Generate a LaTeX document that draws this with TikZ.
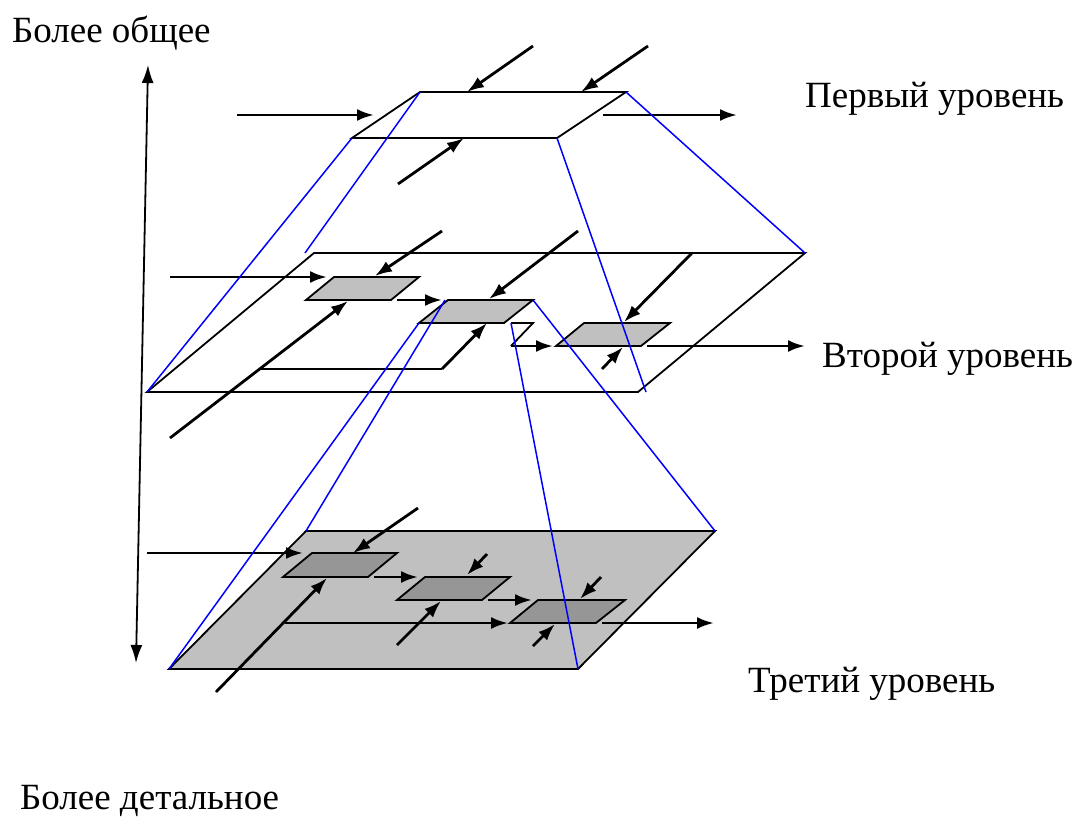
\documentclass[tikz,border=0pt]{standalone}
\usepackage{fontspec}
\setmainfont{Liberation Serif}
\usepackage{tikz}
\usetikzlibrary{arrows.meta}
\usepackage{xcolor}
\definecolor{planegray}{RGB}{192,192,192}
\definecolor{boxgray}{RGB}{150,150,150}
\definecolor{projblue}{RGB}{0,0,255}

\tikzset{
  plane/.style={draw=black, line width=1.8pt, line join=miter},
  subbox/.style={draw=black, line width=1.8pt},
  flow/.style={line width=2.8pt, -{Latex[length=17pt,width=12pt]}},
  axisflow/.style={line width=1.8pt, {Latex[length=18pt,width=12pt]}-{Latex[length=18pt,width=12pt]}},
  proj/.style={projblue, line width=1.5pt},
  caption/.style={anchor=base west, inner sep=0pt, font=\fontsize{37}{41}\selectfont}
}

\begin{document}
\begin{tikzpicture}[x=1pt, y=-1pt]
  \useasboundingbox (0,0) rectangle (1079,819);

  % Scale axis
  \coordinate (axtop) at (148,65);
  \coordinate (axbot) at (136,663);
  \draw[axisflow] (axbot) -- (axtop);

  % Level 1
  \coordinate (p1tl) at (420,92);
  \coordinate (p1tr) at (626,92);
  \coordinate (p1br) at (557,138);
  \coordinate (p1bl) at (352,138);
  \draw[plane] (p1tl) -- (p1tr) -- (p1br) -- (p1bl) -- cycle;

  \coordinate (in1) at (237,115);   \coordinate (in1e) at (374,115);
  \coordinate (out1) at (603,115);  \coordinate (out1e) at (737,115);
  \coordinate (ca1) at (533,46);    \coordinate (ca1e) at (467,92);
  \coordinate (cb1) at (648,46);    \coordinate (cb1e) at (581,92);
  \coordinate (me1) at (398,184);   \coordinate (me1e) at (464,138);
  \draw[flow] (in1) -- (in1e);
  \draw[flow] (out1) -- (out1e);
  \draw[flow] (ca1) -- (ca1e);
  \draw[flow] (cb1) -- (cb1e);
  \draw[flow] (me1) -- (me1e);

  % Level 2
  \coordinate (p2tl) at (314,253);
  \coordinate (p2tr) at (805,253);
  \coordinate (p2br) at (638,392);
  \coordinate (p2bl) at (147,392);
  \draw[plane] (p2tl) -- (p2tr) -- (p2br) -- (p2bl) -- cycle;

  \coordinate (bAtl) at (334,277); \coordinate (bAtr) at (419,277);
  \coordinate (bAbr) at (391,300); \coordinate (bAbl) at (306,300);
  \coordinate (bBtl) at (448,300); \coordinate (bBtr) at (533,300);
  \coordinate (bBbr) at (504,323); \coordinate (bBbl) at (419,323);
  \coordinate (bCtl) at (584,323); \coordinate (bCtr) at (670,323);
  \coordinate (bCbr) at (641,346); \coordinate (bCbl) at (556,346);
  \foreach \b in {bA,bB,bC}
    \filldraw[subbox, fill=planegray] (\b tl) -- (\b tr) -- (\b br) -- (\b bl) -- cycle;

  \coordinate (in2) at (170,277);  \coordinate (in2e) at (327,277);
  \coordinate (ca2) at (442,231);  \coordinate (ca2e) at (375,276);
  \coordinate (me2) at (170,438);  \coordinate (me2e) at (348,301);
  \coordinate (ab2) at (397,300);  \coordinate (ab2e) at (442,300);
  \coordinate (cb2) at (578,231);  \coordinate (cb2e) at (489,299);
  \coordinate (fb2) at (260,369);  \coordinate (fb2k) at (442,369);
  \coordinate (fb2e) at (487,323);
  \coordinate (zz2) at (511,323);  \coordinate (zz2a) at (533,323);
  \coordinate (zz2b) at (511,346); \coordinate (zz2e) at (553,346);
  \coordinate (cc2) at (692,253);  \coordinate (cc2e) at (624,322);
  \coordinate (mc2) at (602,369);  \coordinate (mc2e) at (623,347);
  \coordinate (out2) at (647,346); \coordinate (out2e) at (805,346);
  \draw[flow] (in2) -- (in2e);
  \draw[flow] (ca2) -- (ca2e);
  \draw[flow] (me2) -- (me2e);
  \draw[flow] (ab2) -- (ab2e);
  \draw[flow] (cb2) -- (cb2e);
  \draw[plane] (fb2) -- (fb2k);
  \draw[flow] (fb2k) -- (fb2e);
  \draw[plane] (zz2) -- (zz2a) -- (zz2b);
  \draw[flow] (zz2b) -- (zz2e);
  \draw[flow] (cc2) -- (cc2e);
  \draw[flow] (mc2) -- (mc2e);
  \draw[flow] (out2) -- (out2e);

  % Level 3
  \coordinate (p3tl) at (306,531);
  \coordinate (p3tr) at (715,531);
  \coordinate (p3br) at (578,669);
  \coordinate (p3bl) at (169,669);
  \filldraw[plane, fill=planegray] (p3tl) -- (p3tr) -- (p3br) -- (p3bl) -- cycle;

  \coordinate (bDtl) at (312,553); \coordinate (bDtr) at (397,553);
  \coordinate (bDbr) at (368,577); \coordinate (bDbl) at (283,577);
  \coordinate (bEtl) at (425,577); \coordinate (bEtr) at (510,577);
  \coordinate (bEbr) at (482,600); \coordinate (bEbl) at (397,600);
  \coordinate (bFtl) at (538,600); \coordinate (bFtr) at (625,600);
  \coordinate (bFbr) at (596,623); \coordinate (bFbl) at (510,623);
  \foreach \b in {bD,bE,bF}
    \filldraw[subbox, fill=boxgray] (\b tl) -- (\b tr) -- (\b br) -- (\b bl) -- cycle;

  \coordinate (in3) at (147,553);  \coordinate (in3e) at (303,553);
  \coordinate (cd3) at (418,508);  \coordinate (cd3e) at (353,553);
  \coordinate (md3) at (216,692);  \coordinate (md3e) at (327,578);
  \coordinate (de3) at (374,577);  \coordinate (de3e) at (418,577);
  \coordinate (ce3) at (487,554);  \coordinate (ce3e) at (467,575);
  \coordinate (me3) at (397,645);  \coordinate (me3e) at (441,601);
  \coordinate (ef3) at (488,600);  \coordinate (ef3e) at (532,600);
  \coordinate (fb3) at (285,623);  \coordinate (fb3e) at (508,623);
  \coordinate (cf3) at (601,577);  \coordinate (cf3e) at (580,599);
  \coordinate (mf3) at (533,646);  \coordinate (mf3e) at (555,624);
  \coordinate (out3) at (602,623); \coordinate (out3e) at (714,623);
  \draw[flow] (in3) -- (in3e);
  \draw[flow] (cd3) -- (cd3e);
  \draw[flow] (md3) -- (md3e);
  \draw[flow] (de3) -- (de3e);
  \draw[flow] (ce3) -- (ce3e);
  \draw[flow] (me3) -- (me3e);
  \draw[flow] (ef3) -- (ef3e);
  \draw[flow] (fb3) -- (fb3e);
  \draw[flow] (cf3) -- (cf3e);
  \draw[flow] (mf3) -- (mf3e);
  \draw[flow] (out3) -- (out3e);

  % Projections between levels
  \coordinate (pr1) at (305,253);
  \coordinate (pr2) at (646,392);
  \coordinate (pr3) at (445,300);
  \draw[proj] (p1tl) -- (pr1);
  \draw[proj] (p1bl) -- (p2bl);
  \draw[proj] (p1br) -- (pr2);
  \draw[proj] (p1tr) -- (p2tr);
  \draw[proj] (pr3) -- (p3tl);
  \draw[proj] (bBbl) -- (p3bl);
  \draw[proj] (bBtr) -- (p3tr);
  \draw[proj] (zz2) -- (p3br);

  % Labels
  \node[caption] (general) at (12,42) {Более общее};
  \node[caption] (lvl1) at (805,107) {Первый уровень};
  \node[caption] (lvl2) at (822,367) {Второй уровень};
  \node[caption] (lvl3) at (748,692) {Третий уровень};
  \node[caption] (detailed) at (20,809) {Более детальное};
\end{tikzpicture}
\end{document}
